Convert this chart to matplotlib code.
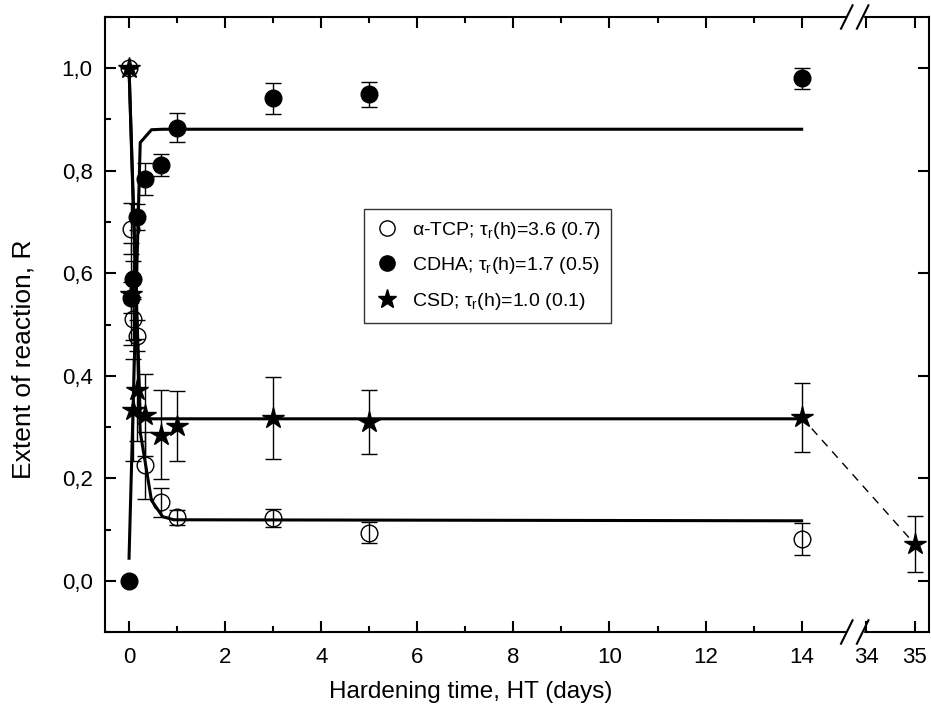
import numpy as np
import matplotlib
matplotlib.use('Agg')
import matplotlib.pyplot as plt
from matplotlib.lines import Line2D

plt.rcParams['font.family'] = ['Liberation Sans', 'DejaVu Sans']
plt.rcParams['mathtext.fontset'] = 'custom'
plt.rcParams['mathtext.rm'] = 'Liberation Sans'
plt.rcParams['mathtext.it'] = 'Liberation Sans'

# measured data (days, extent of reaction)
t = [0, 0.042, 0.083, 0.167, 0.333, 0.667, 1, 3, 5, 14]
tcp = [1.0, 0.687, 0.51, 0.478, 0.225, 0.153, 0.124, 0.122, 0.094, 0.081]
tcp_err = [0, 0.05, 0.04, 0.03, 0.065, 0.028, 0.015, 0.018, 0.02, 0.031]
cdha = [0.0, 0.552, 0.589, 0.71, 0.784, 0.811, 0.884, 0.941, 0.949, 0.98]
cdha_err = [0, 0.03, 0.035, 0.025, 0.032, 0.021, 0.028, 0.03, 0.025, 0.02]
t_csd = [0, 0.042, 0.083, 0.167, 0.333, 0.667, 1, 3, 5, 14, 35]
csd = [1.0, 0.56, 0.333, 0.372, 0.324, 0.285, 0.302, 0.317, 0.31, 0.319, 0.072]
csd_err = [0, 0.1, 0.1, 0.1, 0.08, 0.087, 0.068, 0.08, 0.062, 0.067, 0.055]

# fitted curves
t_fit = [0, 0.233, 0.467, 0.7, 0.933, 14]
tcp_fit = [1.0, 0.29, 0.157, 0.125, 0.119, 0.117]
cdha_fit = [0.044, 0.855, 0.880, 0.881, 0.881, 0.881]
csd_fit = [1.0, 0.318, 0.316, 0.316, 0.316, 0.316]

xticks = [0, 2, 4, 6, 8, 10, 12, 14, 34, 35]
xminor = [1, 3, 5, 7, 9, 11, 13]
yticks = [0.0, 0.2, 0.4, 0.6, 0.8, 1.0]
ylabels = ['0,0', '0,2', '0,4', '0,6', '0,8', '1,0']

# broken x axis: 0..15.12 | 33.77..
BRK, SHIFT = 15.12, 18.65
def fwd(x):
	x = np.asarray(x, float)
	return np.where(x <= BRK, x, np.where(x >= BRK + SHIFT, x - SHIFT, BRK))
def inv(d):
	d = np.asarray(d, float)
	return np.where(d <= BRK, d, d + SHIFT)

fig = plt.figure(figsize=(9.31, 7.2), dpi=100)
ax = fig.add_axes([0.1128, 0.1222, 0.885, 0.8542])
ax.set_xscale('function', functions=(fwd, inv))

lw_fit = 2.2
ax.plot(t_fit, tcp_fit, color='k', lw=lw_fit, zorder=2)
ax.plot(t_fit, cdha_fit, color='k', lw=lw_fit, zorder=2)
ax.plot(t_fit, csd_fit, color='k', lw=lw_fit, zorder=2)
ax.plot(t_csd[-2:], csd[-2:], color='k', lw=1, ls=(0, (6, 5)), zorder=2)

eb = dict(ecolor='k', elinewidth=1, capsize=6, capthick=1, ls='none')
ax.errorbar(t, tcp, yerr=tcp_err, marker='o', ms=12, mfc='none', mec='k', mew=1, zorder=3, **eb)
ax.errorbar(t, cdha, yerr=cdha_err, marker='o', ms=12, mfc='k', mec='k', zorder=3, **eb)
ax.errorbar(t_csd, csd, yerr=csd_err, marker='*', ms=16, mfc='k', mec='k', zorder=4, **eb)

ax.set_xlim(-0.5, 35.3)
ax.set_ylim(-0.1, 1.1)
ax.set_xticks(xticks)
ax.set_xticklabels([str(v) for v in xticks])
ax.set_xticks(xminor, minor=True)
ax.set_yticks(yticks)
ax.set_yticklabels(ylabels)
ax.set_yticks([-0.1, 0.1, 0.3, 0.5, 0.7, 0.9, 1.1], minor=True)

for s in ax.spines.values():
	s.set_linewidth(1.5)
ax.tick_params(which='both', direction='in', top=True, right=True, width=1.5, labelsize=16)
ax.tick_params(which='major', length=8)
ax.tick_params(which='minor', length=4.5)
ax.tick_params(axis='x', pad=11)
ax.tick_params(axis='y', pad=9)
ax.tick_params(axis='y', which='minor', right=False)

ax.set_xlabel('Hardening time, HT (days)', fontsize=17.5)
ax.set_ylabel('Extent of reaction, R', fontsize=19)
ax.xaxis.set_label_coords(0.444, -0.08)
ax.yaxis.set_label_coords(-0.084, 0.444)

# axis break marks
tr = ax.get_xaxis_transform()
for yb in (0, 1):
	ax.fill([14.94, 15.27 + SHIFT, 15.27 + SHIFT, 14.94], [yb - 0.006, yb - 0.006, yb + 0.006, yb + 0.006],
		transform=tr, color='white', clip_on=False, zorder=5)
	for xb in (14.94, 15.27 + SHIFT):
		d = 0.12
		ax.plot([xb - d, xb + d], [yb - 0.019, yb + 0.019], transform=tr, color='k', lw=1.5,
			clip_on=False, zorder=6)

handles = [
	Line2D([], [], ls='none', marker='o', ms=11, mfc='none', mec='k', mew=1),
	Line2D([], [], ls='none', marker='o', ms=11, mfc='k', mec='k'),
	Line2D([], [], ls='none', marker='*', ms=14, mfc='k', mec='k'),
]
labels = [r'$\alpha$-TCP; τ$_r$(h)=3.6 (0.7)', r'CDHA; τ$_r$(h)=1.7 (0.5)', r'CSD; τ$_r$(h)=1.0 (0.1)']
leg = ax.legend(handles, labels, loc='upper left', bbox_to_anchor=(0.3143, 0.6878), fontsize=14,
	frameon=True, fancybox=False, edgecolor='k', handlelength=1.3, handletextpad=0.6,
	labelspacing=0.75, borderpad=0.55, borderaxespad=0)
leg.get_frame().set_linewidth(1)

fig.savefig('out.png', dpi=100)
